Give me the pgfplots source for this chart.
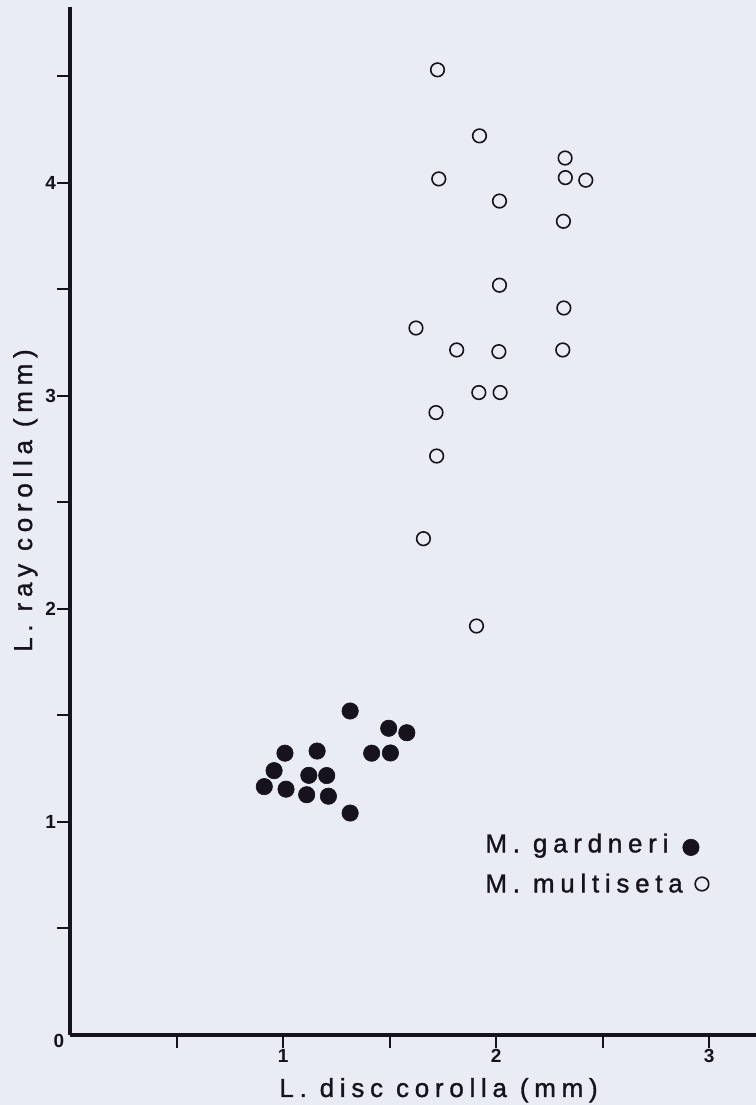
\documentclass[border=0pt]{standalone}
\usepackage{fontspec}
\setmainfont{Liberation Sans}
\newfontfamily\labfont[LetterSpace=22, FakeBold=1.2]{Liberation Sans}
\usepackage{pgfplots}
\pgfplotsset{compat=1.18}
\definecolor{paper}{RGB}{233,235,245}
\definecolor{ink}{RGB}{22,18,30}
% legend symbols sit just after each label
\pgfplotsset{
  legG/.style={legend image code/.code={\draw[mark repeat=2, mark phase=2, ##1] plot coordinates {(0pt,-1pt) (3.5pt,-1pt)};}},
  legM/.style={legend image code/.code={\draw[mark repeat=2, mark phase=2, ##1] plot coordinates {(0pt,0.7pt) (9pt,0.7pt)};}},
}
\begin{document}
\begin{tikzpicture}
\path[use as bounding box, fill=paper] (-35pt,-35pt) rectangle (343pt,517.5pt);
\begin{axis}[
  at={(0,0)}, anchor=south west,
  scale only axis, width=343pt, height=514pt,
  xmin=0, xmax=3.22, ymin=0, ymax=4.826,
  axis x line=bottom, axis y line=left,
  axis line style={line width=2pt, draw=ink, -},
  xtick={0.5,1,1.5,2,2.5,3}, xticklabels={,1,,2,,3},
  ytick={0.5,1,1.5,2,2.5,3,3.5,4,4.5}, yticklabels={,1,,2,,3,,4,},
  tick align=outside, major tick length=6.5pt,
  tick style={line width=1pt, draw=ink},
  ticklabel style={font=\fontsize{9.5}{10}\selectfont\bfseries, text=ink},
  xticklabel style={yshift=3pt}, yticklabel style={xshift=3pt},
  clip=false,
  legend plot pos=right, legend cell align=left,
  legend style={at={(axis cs:1.948,0.953)}, anchor=north west, draw=none, fill=none,
    inner sep=0pt, row sep=7pt, column sep=0pt, font=\labfont\fontsize{13}{15}\selectfont, text=ink,
    nodes={inner sep=0pt, text height=10pt, text depth=3pt}},
]
% M. gardneri
\addplot[only marks, mark=*, mark size=4.1pt, mark options={fill=ink, draw=ink, line width=0.3pt}, legG] coordinates {
(1.315,1.521) (1.496,1.440) (1.581,1.419) (1.009,1.323) (1.160,1.333)
(1.416,1.323) (1.504,1.324) (0.958,1.241) (1.121,1.219) (1.205,1.218)
(0.912,1.166) (1.014,1.154) (1.111,1.128) (1.213,1.121) (1.315,1.042)};
\addlegendentry{M. gardneri}
% M. multiseta
\addplot[only marks, mark=o, mark size=3.4pt, mark options={draw=ink, line width=0.8pt}, legM] coordinates {
(1.725,4.531) (1.922,4.221) (2.324,4.117) (1.731,4.019) (2.325,4.025)
(2.421,4.013) (2.016,3.915) (2.316,3.820) (2.016,3.520) (2.318,3.413)
(1.624,3.319) (1.815,3.216) (2.013,3.208) (2.313,3.216) (1.919,3.016)
(2.019,3.016) (1.718,2.922) (1.721,2.718) (1.659,2.330) (1.908,1.920)};
\addlegendentry{M. multiseta}
\node[font=\fontsize{9.5}{10}\selectfont\bfseries, text=ink] at (axis cs:0,0) [xshift=-5.5pt, yshift=-3pt] {0};
\node[font=\labfont\fontsize{13}{15}\selectfont, text=ink, anchor=base, inner sep=0pt] at (axis cs:1.73,-0.291) {L. disc corolla (mm)};
\node[font=\labfont\fontsize{13}{15}\selectfont, text=ink, anchor=base, rotate=90, inner sep=0pt] at (axis cs:-0.178,2.509) {L. ray corolla (mm)};
\end{axis}
\end{tikzpicture}
\end{document}
